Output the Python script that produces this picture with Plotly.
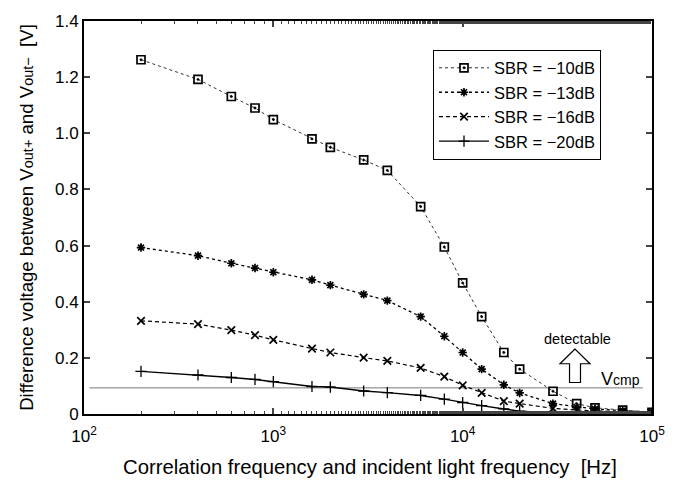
import plotly.graph_objects as go

freq = [200, 400, 600, 800, 1000, 1600, 2000, 3000, 4000, 6000, 8000, 10000,
        12600, 16500, 20000, 30000, 40000, 50000, 70000, 100000]
sbr10 = [1.262, 1.192, 1.131, 1.090, 1.049, 0.980, 0.950, 0.905, 0.868, 0.739,
         0.595, 0.467, 0.347, 0.219, 0.160, 0.081, 0.037, 0.022, 0.014, 0.006]
sbr13 = [0.593, 0.564, 0.537, 0.520, 0.505, 0.478, 0.459, 0.426, 0.404, 0.347,
         0.277, 0.219, 0.160, 0.104, 0.075, 0.037, 0.025, 0.018, 0.012, 0.007]
sbr16 = [0.332, 0.320, 0.299, 0.281, 0.264, 0.233, 0.219, 0.201, 0.189, 0.164,
         0.133, 0.102, 0.075, 0.046, 0.037, 0.020, 0.014, 0.011, 0.007, 0.004]
sbr20 = [0.152, 0.139, 0.130, 0.123, 0.115, 0.098, 0.096, 0.082, 0.076, 0.066,
         0.053, 0.041, 0.030, 0.018, 0.010, 0.005, 0.003, 0.002, 0.001, 0.001]
names = ["SBR = \u221210dB", "SBR = \u221213dB", "SBR = \u221216dB", "SBR = \u221220dB"]
vcmp_x = [107, 89500]
vcmp_y = [0.093, 0.093]
yticks = [0, 0.2, 0.4, 0.6, 0.8, 1.0, 1.2, 1.4]
ytick_text = ["0", "0.2", "0.4", "0.6", "0.8", "1.0", "1.2", "1.4"]
xticks = [100, 1000, 10000, 100000]
xtick_text = ["10<sup>2</sup>", "10<sup>3</sup>", "10<sup>4</sup>", "10<sup>5</sup>"]

fig = go.Figure()
fig.add_trace(go.Scatter(x=vcmp_x, y=vcmp_y, mode="lines", showlegend=False,
                         line=dict(color="#777777", width=1)))
styles = [
    dict(line=dict(color="#333333", width=1, dash="dot"),
         marker=dict(symbol="square-open-dot", size=8, color="black", line=dict(width=1.7))),
    dict(line=dict(color="black", width=1.3, dash="dot"),
         marker=dict(symbol="asterisk-open", size=7, color="black", line=dict(width=1.7))),
    dict(line=dict(color="black", width=1.2, dash="4px,3px"),
         marker=dict(symbol="x-thin-open", size=7.5, color="black", line=dict(width=1.7))),
    dict(line=dict(color="black", width=1.4),
         marker=dict(symbol="cross-thin-open", size=8, color="black", line=dict(width=1.3))),
]
for ys, nm, st in zip([sbr10, sbr13, sbr16, sbr20], names, styles):
    fig.add_trace(go.Scatter(x=freq, y=ys, name=nm, mode="lines+markers",
                             line=st["line"], marker=st["marker"]))

L, R, T, B = 84, 25, 15, 68
W, H = 677, 482
pw, ph = W - L - R, H - T - B

def px(x):
    return (x - L) / pw

def py(y):
    return (H - B - y) / ph

# hollow up arrow
pts = [(575, 348), (560, 363), (569.5, 363), (569.5, 382), (580.5, 382), (580.5, 363), (590, 363)]
path = "M " + " L ".join(f"{px(a):.4f},{py(b):.4f}" for a, b in pts) + " Z"
fig.add_shape(type="path", path=path, xref="paper", yref="paper",
              line=dict(color="black", width=1.2), fillcolor="white")

fig.add_annotation(x=px(577), y=py(338), xref="paper", yref="paper", text="detectable",
                   xanchor="center", yanchor="middle",
                   showarrow=False, font=dict(size=14.5, color="black"))
fig.add_annotation(x=px(599), y=py(378), xref="paper", yref="paper",
                   text="V<span style='font-size:14px'>cmp</span>", xanchor="left",
                   yanchor="middle", showarrow=False, font=dict(size=18, color="black"))
fig.add_annotation(x=px(370), y=py(468), xref="paper", yref="paper",
                   text="Correlation frequency and incident light frequency  [Hz]",
                   xanchor="center", yanchor="middle", showarrow=False,
                   font=dict(size=20.3, color="black"))

fig.update_layout(
    width=W, height=H,
    margin=dict(l=L, r=R, t=T, b=B),
    paper_bgcolor="white", plot_bgcolor="white",
    font=dict(family="Liberation Sans, Arial, sans-serif", size=17, color="black"),
    legend=dict(x=px(433), y=py(44), xanchor="left", yanchor="top",
                bordercolor="black", borderwidth=1, bgcolor="white",
                font=dict(size=16.5), tracegroupgap=0, itemwidth=50),
    xaxis=dict(type="log", range=[2, 5], tickvals=xticks, ticktext=xtick_text,
               ticks="inside", ticklen=6, tickwidth=1.5, mirror="ticks",
               showline=True, linecolor="black", linewidth=2, showgrid=False,
               ticklabelstandoff=6,
               minor=dict(ticks="inside", ticklen=3, tickwidth=1.2, showgrid=False),
               zeroline=False),
    yaxis=dict(range=[0, 1.4], tickvals=yticks, ticktext=ytick_text,
               ticks="inside", ticklen=6, tickwidth=1.5, mirror="ticks",
               showline=True, linecolor="black", linewidth=2, showgrid=False,
               title=dict(text="Difference voltage between V<span style='font-size:14.5px'>out+</span> and V<span style='font-size:14.5px'>out\u2212</span>  [V]",
                          font=dict(size=18.6), standoff=16),
               zeroline=False),
)

fig.write_html("out.html")
